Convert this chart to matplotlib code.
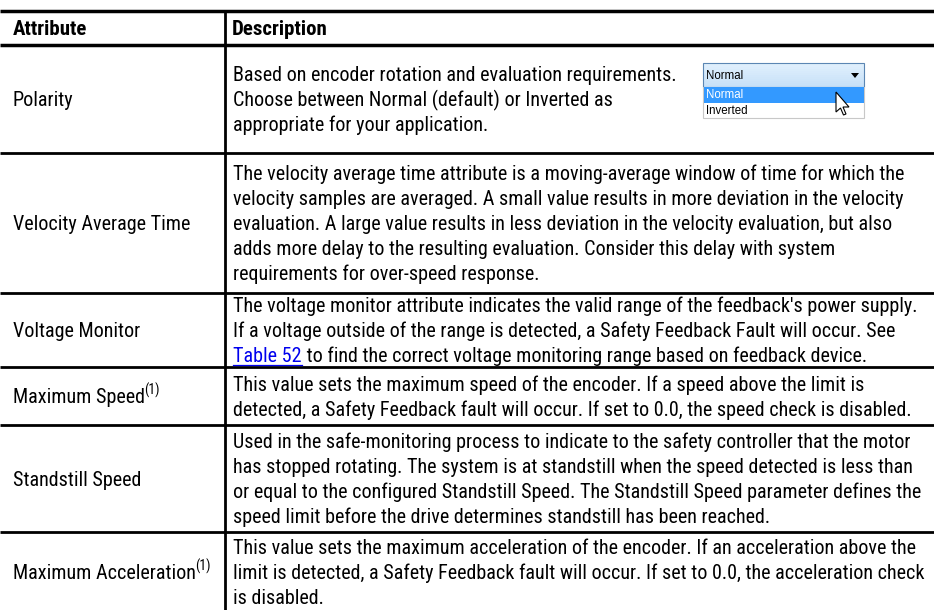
import matplotlib
matplotlib.use("Agg")
import matplotlib.pyplot as plt
from matplotlib import font_manager
from matplotlib.patches import Rectangle, Polygon

# Table content
headers = ["Attribute", "Description"]
attributes = ["Polarity", "Velocity Average Time", "Voltage Monitor",
              "Maximum Speed", "Standstill Speed", "Maximum Acceleration"]
footnotes = ["", "", "", "(1)", "", "(1)"]
descriptions = [
    ["Based on encoder rotation and evaluation requirements.",
     "Choose between Normal (default) or Inverted as",
     "appropriate for your application."],
    ["The velocity average time attribute is a moving-average window of time for which the",
     "velocity samples are averaged. A small value results in more deviation in the velocity",
     "evaluation. A large value results in less deviation in the velocity evaluation, but also",
     "adds more delay to the resulting evaluation. Consider this delay with system",
     "requirements for over-speed response."],
    ["The voltage monitor attribute indicates the valid range of the feedback's power supply.",
     "If a voltage outside of the range is detected, a Safety Feedback Fault will occur. See",
     "Table 52 to find the correct voltage monitoring range based on feedback device."],
    ["This value sets the maximum speed of the encoder. If a speed above the limit is",
     "detected, a Safety Feedback fault will occur. If set to 0.0, the speed check is disabled."],
    ["Used in the safe-monitoring process to indicate to the safety controller that the motor",
     "has stopped rotating. The system is at standstill when the speed detected is less than",
     "or equal to the configured Standstill Speed. The Standstill Speed parameter defines the",
     "speed limit before the drive determines standstill has been reached."],
    ["This value sets the maximum acceleration of the encoder. If an acceleration above the",
     "limit is detected, a Safety Feedback fault will occur. If set to 0.0, the acceleration check",
     "is disabled."],
]
link_text = "Table 52"
dropdown_value = "Normal"
dropdown_options = ["Normal", "Inverted"]

# layout in pixels (y grows downward)
W, H = 934, 610
TOP = 11
HEAD_BOTTOM = 45
row_edges = [45, 153, 293, 367, 425, 532, 612]
COL_X = 225
LS = 25.0  # line spacing

names = {f.name for f in font_manager.fontManager.ttflist}
fam = [n for n in ["Liberation Sans Narrow", "Roboto Condensed", "Open Sans Condensed"] if n in names]
FAMILY = fam[:1] + ["DejaVu Sans"]

fig = plt.figure(figsize=(W / 100, H / 100), dpi=100)
ax = fig.add_axes([0, 0, 1, 1])
ax.set_xlim(0, W)
ax.set_ylim(H, 0)
ax.axis("off")
renderer = fig.canvas.get_renderer()
inv = ax.transData.inverted()


def extent(t):
    bb = t.get_window_extent(renderer)
    (x0, _), (x1, _) = inv.transform([[bb.x0, bb.y0], [bb.x1, bb.y1]])
    return x0, x1


# fit the font size so the widest description line fills the column
probe = ax.text(0, 0, max((l for d in descriptions for l in d), key=len),
                fontsize=15, family=FAMILY)
x0, x1 = extent(probe)
probe.remove()
FS = min(16.5, 15 * 692 / (x1 - x0))
fs_px = FS * 100 / 72
base_off = 0.36 * fs_px

# grid lines
ax.plot([0, W], [TOP, TOP], color="black", lw=2.5, solid_capstyle="butt")
ax.plot([0, W], [HEAD_BOTTOM, HEAD_BOTTOM], color="black", lw=2.5, solid_capstyle="butt")
for y in row_edges[1:-1]:
    ax.plot([0, W], [y, y], color="black", lw=2.0, solid_capstyle="butt")
ax.plot([COL_X, COL_X], [TOP, H], color="black", lw=2.0, solid_capstyle="butt")

# header
hy = (TOP + HEAD_BOTTOM) / 2 + base_off
ax.text(13, hy, headers[0], fontsize=FS + 0.5, fontweight="bold", family=FAMILY, va="baseline")
ax.text(COL_X + 7, hy, headers[1], fontsize=FS + 0.5, fontweight="bold", family=FAMILY, va="baseline")

for i, (name, note, lines) in enumerate(zip(attributes, footnotes, descriptions)):
    top, bot = row_edges[i], row_edges[i + 1]
    yc = (top + bot) / 2
    t = ax.text(13, yc + base_off, name, fontsize=FS, family=FAMILY, va="baseline")
    if note:
        _, ex = extent(t)
        ax.text(ex - 0.5, yc + base_off - 0.42 * fs_px, note, fontsize=FS * 0.68,
                family=FAMILY, va="baseline")
    n = len(lines)
    for k, line in enumerate(lines):
        y = yc + (k - (n - 1) / 2) * LS + base_off
        if line.startswith(link_text):
            lt = ax.text(COL_X + 8, y, link_text, fontsize=FS, family=FAMILY,
                         va="baseline", color="#0000ee")
            lx0, lx1 = extent(lt)
            ax.plot([lx0, lx1], [y + 2.5, y + 2.5], color="#0000ee", lw=0.9)
            ax.text(lx1, y, line[len(link_text):], fontsize=FS, family=FAMILY, va="baseline")
        else:
            ax.text(COL_X + 8, y, line, fontsize=FS, family=FAMILY, va="baseline")

# dropdown widget in the Polarity row
bx0, bx1 = 703, 864
by0, by1, by2, by3 = 63, 87, 103, 118
for j in range(12):
    f = j / 11
    c = (0.88 - 0.10 * f, 0.94 - 0.06 * f, 0.99 - 0.02 * f)
    ax.add_patch(Rectangle((bx0, by0 + f * (by1 - by0) * 11 / 12), bx1 - bx0,
                           (by1 - by0) / 12 + 0.5, color=c, lw=0))
ax.add_patch(Rectangle((bx0, by0), bx1 - bx0, by1 - by0, fill=False, ec="#5b86b3", lw=0.8))
ax.add_patch(Rectangle((bx0, by1), bx1 - bx0, by3 - by1, fc="white", ec="#c8c8c8", lw=0.8))
ax.add_patch(Rectangle((bx0 + 0.5, by1), bx1 - bx0 - 1, by2 - by1, fc="#3399ff", lw=0))
small = dict(fontsize=8.3, family=["Liberation Sans", "DejaVu Sans"], va="center")
ax.text(bx0 + 3, (by0 + by1) / 2 + 1, dropdown_value, color="black", **small)
ax.text(bx0 + 3, (by1 + by2) / 2, dropdown_options[0], color="white", **small)
ax.text(bx0 + 3, (by2 + by3) / 2, dropdown_options[1], color="black", **small)
ax.add_patch(Polygon([[851, 73], [859, 73], [855, 78]], closed=True, fc="black", lw=0))
cur = [[836, 92], [836, 112], [840.5, 108], [843.5, 115], [846, 114], [843, 107], [849, 107]]
ax.add_patch(Polygon(cur, closed=True, fc="white", ec="black", lw=0.8))

fig.savefig("out.png", dpi=100)
